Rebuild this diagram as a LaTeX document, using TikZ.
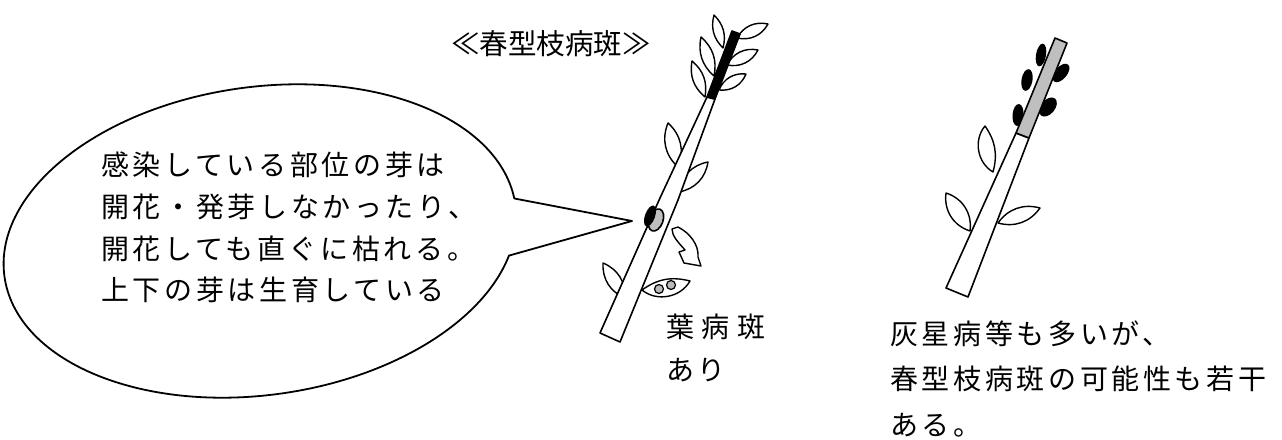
\documentclass[tikz,border=0pt]{standalone}
\usepackage{fontspec}
\newfontfamily\jpfont{Noto Sans CJK JP}[LetterSpace=13]
\newfontfamily\jplbl{Noto Sans CJK JP}[LetterSpace=5]
\newfontfamily\jptitle{Noto Sans CJK JP}
\newcommand{\leafpath}[4]{\draw[leafst] #1 to[bend left=#3] #2 to[bend left=#4] #1;}
\begin{document}
\begin{tikzpicture}[x=1pt,y=1pt,line join=round,line cap=round,
  callst/.style={draw=black,fill=white,line width=1.8pt},
  stemst/.style={draw=black,fill=white,line width=1.6pt},
  blackst/.style={draw=black,fill=black,line width=1.6pt},
  grayst/.style={draw=black,fill=gray!50,line width=1.6pt},
  leafst/.style={draw=black,fill=white,line width=1.4pt},
  spotst/.style={draw=black,fill=gray!55,line width=1.2pt},
  blobst/.style={fill=black},
  txt/.style={anchor=base west,inner sep=0pt,font=\jpfont\fontsize{28}{32}\selectfont},
  lbl/.style={anchor=base west,inner sep=0pt,font=\jplbl\fontsize{28}{32}\selectfont},
  ttl/.style={anchor=base west,inner sep=0pt,font=\jptitle\fontsize{28.5}{32}\selectfont}]
\useasboundingbox[fill=white] (0,0) rectangle (1282,439);

% callout
\coordinate (tip) at (632,218);
\draw[callst,shift={(260,198)},rotate=8] (2.5:258pt and 154pt)
  arc[start angle=2.5,end angle=341.4,x radius=258pt,y radius=154pt] -- (tip) -- cycle;
\node[txt] (c1) at (101,263) {感染している部位の芽は};
\node[txt] (c2) at (101,221) {開花・発芽しなかったり、};
\node[txt] (c3) at (101,179) {開花しても直ぐに枯れる。};
\node[txt] (c4) at (101,138) {上下の芽は生育している};

% title
\node[ttl] (title) at (451,384) {≪春型枝病斑≫};

% left branch leaves
\leafpath{(714,424)}{(723,391)}{30}{30}
\leafpath{(701,402)}{(714,363)}{30}{30}
\leafpath{(692,378)}{(705,342)}{30}{30}
\leafpath{(768,415)}{(737,401)}{37}{37}
\leafpath{(758,389)}{(727,374)}{37}{37}
\leafpath{(746,365)}{(719,349)}{37}{37}
\leafpath{(668,316)}{(678,272)}{35}{35}
\leafpath{(679,247)}{(708,277)}{35}{35}
\leafpath{(603,176)}{(625,141)}{35}{35}
\leafpath{(642,149)}{(690,158)}{25}{50}
\draw[spotst] (659,150) circle[radius=4.5];
\draw[spotst] (671,154) circle[radius=4.5];
% curled leaf
\draw[leafst] (672,210) -- (678,212) .. controls (690,206) and (699,194) .. (698,182)
  -- (701,173) -- (684,176) -- (679,187) -- (685,189)
  .. controls (678,197) and (672,203) .. (672,210) -- cycle;

% left stem
\draw[stemst] (600,106) -- (660,241) -- (707,342) -- (715,340) -- (678,239) -- (620,97) -- cycle;
\draw[blackst] (707,342) -- (732,408) -- (740,405) -- (715,340) -- cycle;
% lesion on stem
\draw[grayst,rotate around={-20:(656,219)}] (656,219) ellipse[x radius=7,y radius=11.5];
\fill[black,rotate around={-20:(650,223)}] (650,223) ellipse[x radius=5,y radius=11];

\node[lbl] (lbl1) at (666,101) {葉 病 斑};
\node[txt] (lbl2) at (666,58) {あり};

% right branch
\fill[blobst,rotate around={-10:(1041,384)}] (1041,384) ellipse[x radius=5,y radius=11.5];
\fill[blobst,rotate around={50:(1061,366)}] (1061,366) ellipse[x radius=11,y radius=6];
\fill[blobst,rotate around={-10:(1027,359)}] (1027,359) ellipse[x radius=5.5,y radius=11];
\fill[blobst,rotate around={50:(1048,332)}] (1048,332) ellipse[x radius=11,y radius=7];
\fill[blobst,rotate around={-5:(1018,324)}] (1018,324) ellipse[x radius=5.5,y radius=11];
\leafpath{(985,313)}{(993,267)}{25}{50}
\leafpath{(946,246)}{(970,208)}{40}{40}
\leafpath{(998,216)}{(1040,231)}{35}{35}
\draw[stemst] (946,151) -- (1016,306) -- (1029,301) -- (968,142) -- cycle;
\draw[grayst] (1016,306) -- (1055,401) -- (1067,396) -- (1029,301) -- cycle;

\node[txt] (r1) at (890,94) {灰星病等も多いが、};
\node[txt] (r2) at (890,49) {春型枝病斑の可能性も若干};
\node[txt] (r3) at (890,4) {ある。};
\end{tikzpicture}
\end{document}
